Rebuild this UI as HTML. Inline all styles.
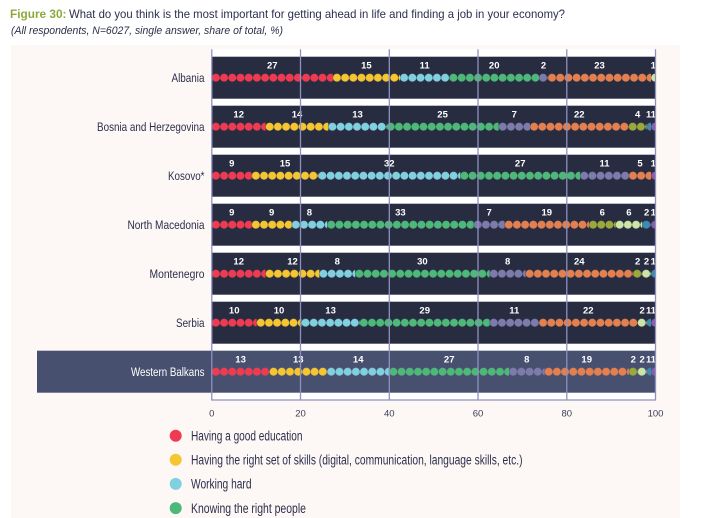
<!DOCTYPE html>
<html><head><meta charset="utf-8"><style>
html,body{margin:0;padding:0;background:#fff;}
svg{display:block;}
text{font-family:"Liberation Sans Narrow","Liberation Sans",sans-serif;}
.n{font-family:"Liberation Sans",sans-serif;font-weight:bold;font-size:9.5px;fill:#fff;text-anchor:middle;}
.lab{font-size:12.3px;fill:#2b2f4b;text-anchor:end;}
.tk{font-size:9.5px;fill:#3a3d55;text-anchor:middle;}
.lg{font-size:13.5px;fill:#2b2f4b;}
</style></head><body>
<svg width="725" height="518" viewBox="0 0 725 518" xmlns="http://www.w3.org/2000/svg">
<defs>
<pattern id="r" width="8.2" height="8.2" patternUnits="userSpaceOnUse"><circle cx="4.1" cy="4.1" r="4" fill="#ef3b52"/></pattern>
<pattern id="y" width="8.2" height="8.2" patternUnits="userSpaceOnUse"><circle cx="4.1" cy="4.1" r="4" fill="#f6c532"/></pattern>
<pattern id="lb" width="8.2" height="8.2" patternUnits="userSpaceOnUse"><circle cx="4.1" cy="4.1" r="4" fill="#80d0df"/></pattern>
<pattern id="g" width="8.2" height="8.2" patternUnits="userSpaceOnUse"><circle cx="4.1" cy="4.1" r="4" fill="#4eb879"/></pattern>
<pattern id="gp" width="8.2" height="8.2" patternUnits="userSpaceOnUse"><circle cx="4.1" cy="4.1" r="4" fill="#7c7bab"/></pattern>
<pattern id="o" width="8.2" height="8.2" patternUnits="userSpaceOnUse"><circle cx="4.1" cy="4.1" r="4" fill="#e4804f"/></pattern>
<pattern id="ol" width="8.2" height="8.2" patternUnits="userSpaceOnUse"><circle cx="4.1" cy="4.1" r="4" fill="#9aa83c"/></pattern>
<pattern id="lg" width="8.2" height="8.2" patternUnits="userSpaceOnUse"><circle cx="4.1" cy="4.1" r="4" fill="#cde4a7"/></pattern>
<pattern id="t" width="8.2" height="8.2" patternUnits="userSpaceOnUse"><circle cx="4.1" cy="4.1" r="4" fill="#3c8bb3"/></pattern>
<pattern id="p" width="8.2" height="8.2" patternUnits="userSpaceOnUse"><circle cx="4.1" cy="4.1" r="4" fill="#8c5ca9"/></pattern>
</defs>

<!-- background -->
<rect x="0" y="0" width="725" height="518" fill="#ffffff"/>
<rect x="11" y="45" width="669" height="473" fill="#fdf8f6"/>

<!-- title -->
<text x="10" y="18" font-size="12" font-weight="bold" fill="#8fa83c" textLength="56.5" lengthAdjust="spacingAndGlyphs">Figure 30:</text>
<text x="69" y="18" font-size="12" fill="#2b2f4b" textLength="496" lengthAdjust="spacingAndGlyphs">What do you think is the most important for getting ahead in life and finding a job in your economy?</text>
<text x="11" y="34" font-size="11" font-style="italic" fill="#2b2f4b" textLength="272" lengthAdjust="spacingAndGlyphs">(All respondents, N=6027, single answer, share of total, %)</text>

<!-- plot white area -->
<rect x="211.8" y="49" width="443.7" height="351" fill="#ffffff"/>

<!-- Western Balkans band -->
<rect x="37" y="350.7" width="618.5" height="42" fill="#48506f"/>

<!-- dark rows -->
<rect x="211.8" y="56.7" width="443.7" height="42" fill="#272c41"/>
<rect x="211.8" y="105.7" width="443.7" height="42" fill="#272c41"/>
<rect x="211.8" y="154.7" width="443.7" height="42" fill="#272c41"/>
<rect x="211.8" y="203.7" width="443.7" height="42" fill="#272c41"/>
<rect x="211.8" y="252.7" width="443.7" height="42" fill="#272c41"/>
<rect x="211.8" y="301.7" width="443.7" height="42" fill="#272c41"/>

<!-- row labels -->
<text class="lab" x="204.5" y="82.2" textLength="33" lengthAdjust="spacingAndGlyphs">Albania</text>
<text class="lab" x="204.5" y="131.2" textLength="107.5" lengthAdjust="spacingAndGlyphs">Bosnia and Herzegovina</text>
<text class="lab" x="204.5" y="180.2" textLength="36.5" lengthAdjust="spacingAndGlyphs">Kosovo*</text>
<text class="lab" x="204.5" y="229.2" textLength="77" lengthAdjust="spacingAndGlyphs">North Macedonia</text>
<text class="lab" x="204.5" y="278.2" textLength="55" lengthAdjust="spacingAndGlyphs">Montenegro</text>
<text class="lab" x="204.5" y="327.2" textLength="28.5" lengthAdjust="spacingAndGlyphs">Serbia</text>
<text class="lab" x="204.5" y="376.2" textLength="73.5" lengthAdjust="spacingAndGlyphs" style="fill:#ffffff">Western Balkans</text>

<!-- Albania -->
<g transform="translate(0,73.6)">
<rect transform="translate(211.8,0)" width="121.01" height="8.2" fill="url(#r)"/>
<rect transform="translate(332.81,0)" width="67.23" height="8.2" fill="url(#y)"/>
<rect transform="translate(400.04,0)" width="49.30" height="8.2" fill="url(#lb)"/>
<rect transform="translate(449.34,0)" width="89.63" height="8.2" fill="url(#g)"/>
<rect transform="translate(538.97,0)" width="8.97" height="8.2" fill="url(#gp)"/>
<rect transform="translate(547.94,0)" width="103.08" height="8.2" fill="url(#o)"/>
<rect transform="translate(651.02,0)" width="4.48" height="8.2" fill="url(#lg)"/>
</g>
<g>
<text class="n" x="272.3" y="68.7">27</text>
<text class="n" x="366.4" y="68.7">15</text>
<text class="n" x="424.7" y="68.7">11</text>
<text class="n" x="494.2" y="68.7">20</text>
<text class="n" x="543.5" y="68.7">2</text>
<text class="n" x="599.5" y="68.7">23</text>
<text class="n" x="653.3" y="68.7">1</text>
</g>

<!-- Bosnia -->
<g transform="translate(0,122.6)">
<rect transform="translate(211.8,0)" width="53.78" height="8.2" fill="url(#r)"/>
<rect transform="translate(265.58,0)" width="62.75" height="8.2" fill="url(#y)"/>
<rect transform="translate(328.33,0)" width="58.26" height="8.2" fill="url(#lb)"/>
<rect transform="translate(386.59,0)" width="112.05" height="8.2" fill="url(#g)"/>
<rect transform="translate(498.64,0)" width="31.37" height="8.2" fill="url(#gp)"/>
<rect transform="translate(530.01,0)" width="98.60" height="8.2" fill="url(#o)"/>
<rect transform="translate(628.61,0)" width="17.92" height="8.2" fill="url(#ol)"/>
<rect transform="translate(646.53,0)" width="4.49" height="8.2" fill="url(#t)"/>
<rect transform="translate(651.02,0)" width="4.48" height="8.2" fill="url(#p)"/>
</g>
<g>
<text class="n" x="238.7" y="117.7">12</text>
<text class="n" x="297.0" y="117.7">14</text>
<text class="n" x="357.5" y="117.7">13</text>
<text class="n" x="442.6" y="117.7">25</text>
<text class="n" x="514.3" y="117.7">7</text>
<text class="n" x="579.3" y="117.7">22</text>
<text class="n" x="637.6" y="117.7">4</text>
<text class="n" x="648.6" y="117.7">1</text>
<text class="n" x="653.3" y="117.7">1</text>
</g>

<!-- Kosovo -->
<g transform="translate(0,171.6)">
<rect transform="translate(211.8,0)" width="39.93" height="8.2" fill="url(#r)"/>
<rect transform="translate(251.73,0)" width="66.56" height="8.2" fill="url(#y)"/>
<rect transform="translate(318.29,0)" width="141.98" height="8.2" fill="url(#lb)"/>
<rect transform="translate(460.27,0)" width="119.80" height="8.2" fill="url(#g)"/>
<rect transform="translate(580.07,0)" width="48.81" height="8.2" fill="url(#gp)"/>
<rect transform="translate(628.88,0)" width="22.18" height="8.2" fill="url(#o)"/>
<rect transform="translate(651.06,0)" width="4.44" height="8.2" fill="url(#p)"/>
</g>
<g>
<text class="n" x="231.8" y="166.7">9</text>
<text class="n" x="285.0" y="166.7">15</text>
<text class="n" x="389.3" y="166.7">32</text>
<text class="n" x="520.2" y="166.7">27</text>
<text class="n" x="604.5" y="166.7">11</text>
<text class="n" x="640.0" y="166.7">5</text>
<text class="n" x="653.3" y="166.7">1</text>
</g>

<!-- North Macedonia -->
<g transform="translate(0,220.6)">
<rect transform="translate(211.8,0)" width="39.93" height="8.2" fill="url(#r)"/>
<rect transform="translate(251.73,0)" width="39.94" height="8.2" fill="url(#y)"/>
<rect transform="translate(291.67,0)" width="35.49" height="8.2" fill="url(#lb)"/>
<rect transform="translate(327.16,0)" width="146.42" height="8.2" fill="url(#g)"/>
<rect transform="translate(473.58,0)" width="31.06" height="8.2" fill="url(#gp)"/>
<rect transform="translate(504.64,0)" width="84.31" height="8.2" fill="url(#o)"/>
<rect transform="translate(588.95,0)" width="26.62" height="8.2" fill="url(#ol)"/>
<rect transform="translate(615.57,0)" width="26.62" height="8.2" fill="url(#lg)"/>
<rect transform="translate(642.19,0)" width="8.87" height="8.2" fill="url(#t)"/>
<rect transform="translate(651.06,0)" width="4.44" height="8.2" fill="url(#p)"/>
</g>
<g>
<text class="n" x="231.8" y="215.7">9</text>
<text class="n" x="271.7" y="215.7">9</text>
<text class="n" x="309.4" y="215.7">8</text>
<text class="n" x="400.4" y="215.7">33</text>
<text class="n" x="489.1" y="215.7">7</text>
<text class="n" x="546.8" y="215.7">19</text>
<text class="n" x="602.3" y="215.7">6</text>
<text class="n" x="628.9" y="215.7">6</text>
<text class="n" x="646.6" y="215.7">2</text>
<text class="n" x="653.3" y="215.7">1</text>
</g>

<!-- Montenegro -->
<g transform="translate(0,269.6)">
<rect transform="translate(211.8,0)" width="53.78" height="8.2" fill="url(#r)"/>
<rect transform="translate(265.58,0)" width="53.78" height="8.2" fill="url(#y)"/>
<rect transform="translate(319.36,0)" width="35.86" height="8.2" fill="url(#lb)"/>
<rect transform="translate(355.22,0)" width="134.45" height="8.2" fill="url(#g)"/>
<rect transform="translate(489.67,0)" width="35.86" height="8.2" fill="url(#gp)"/>
<rect transform="translate(525.53,0)" width="107.56" height="8.2" fill="url(#o)"/>
<rect transform="translate(633.09,0)" width="8.96" height="8.2" fill="url(#ol)"/>
<rect transform="translate(642.05,0)" width="8.97" height="8.2" fill="url(#lg)"/>
<rect transform="translate(651.02,0)" width="4.48" height="8.2" fill="url(#t)"/>
</g>
<g>
<text class="n" x="238.7" y="264.7">12</text>
<text class="n" x="292.5" y="264.7">12</text>
<text class="n" x="337.3" y="264.7">8</text>
<text class="n" x="422.4" y="264.7">30</text>
<text class="n" x="507.6" y="264.7">8</text>
<text class="n" x="579.3" y="264.7">24</text>
<text class="n" x="637.6" y="264.7">2</text>
<text class="n" x="646.5" y="264.7">2</text>
<text class="n" x="653.3" y="264.7">1</text>
</g>

<!-- Serbia -->
<g transform="translate(0,318.6)">
<rect transform="translate(211.8,0)" width="44.82" height="8.2" fill="url(#r)"/>
<rect transform="translate(256.62,0)" width="44.82" height="8.2" fill="url(#y)"/>
<rect transform="translate(301.44,0)" width="58.26" height="8.2" fill="url(#lb)"/>
<rect transform="translate(359.70,0)" width="129.97" height="8.2" fill="url(#g)"/>
<rect transform="translate(489.67,0)" width="49.30" height="8.2" fill="url(#gp)"/>
<rect transform="translate(538.97,0)" width="98.60" height="8.2" fill="url(#o)"/>
<rect transform="translate(637.57,0)" width="8.96" height="8.2" fill="url(#lg)"/>
<rect transform="translate(646.53,0)" width="4.49" height="8.2" fill="url(#t)"/>
<rect transform="translate(651.02,0)" width="4.48" height="8.2" fill="url(#p)"/>
</g>
<g>
<text class="n" x="234.2" y="313.7">10</text>
<text class="n" x="279.0" y="313.7">10</text>
<text class="n" x="330.6" y="313.7">13</text>
<text class="n" x="424.7" y="313.7">29</text>
<text class="n" x="514.3" y="313.7">11</text>
<text class="n" x="588.3" y="313.7">22</text>
<text class="n" x="642.1" y="313.7">2</text>
<text class="n" x="648.6" y="313.7">1</text>
<text class="n" x="653.3" y="313.7">1</text>
</g>

<!-- Western Balkans -->
<g transform="translate(0,367.6)">
<rect transform="translate(211.8,0)" width="57.68" height="8.2" fill="url(#r)"/>
<rect transform="translate(269.48,0)" width="57.68" height="8.2" fill="url(#y)"/>
<rect transform="translate(327.16,0)" width="62.12" height="8.2" fill="url(#lb)"/>
<rect transform="translate(389.28,0)" width="119.80" height="8.2" fill="url(#g)"/>
<rect transform="translate(509.08,0)" width="35.50" height="8.2" fill="url(#gp)"/>
<rect transform="translate(544.58,0)" width="84.30" height="8.2" fill="url(#o)"/>
<rect transform="translate(628.88,0)" width="8.87" height="8.2" fill="url(#ol)"/>
<rect transform="translate(637.75,0)" width="8.88" height="8.2" fill="url(#lg)"/>
<rect transform="translate(646.63,0)" width="4.43" height="8.2" fill="url(#t)"/>
<rect transform="translate(651.06,0)" width="4.44" height="8.2" fill="url(#p)"/>
</g>
<g>
<text class="n" x="240.6" y="362.7">13</text>
<text class="n" x="298.3" y="362.7">13</text>
<text class="n" x="358.2" y="362.7">14</text>
<text class="n" x="449.2" y="362.7">27</text>
<text class="n" x="526.8" y="362.7">8</text>
<text class="n" x="586.7" y="362.7">19</text>
<text class="n" x="633.3" y="362.7">2</text>
<text class="n" x="642.2" y="362.7">2</text>
<text class="n" x="648.6" y="362.7">1</text>
<text class="n" x="653.3" y="362.7">1</text>
</g>

<!-- gridlines -->
<g stroke="#8e91bf" stroke-width="1.3" fill="none">
<line x1="211.8" y1="49.3" x2="211.8" y2="400"/>
<line x1="300.5" y1="49.3" x2="300.5" y2="400"/>
<line x1="389.3" y1="49.3" x2="389.3" y2="400"/>
<line x1="478.0" y1="49.3" x2="478.0" y2="400"/>
<line x1="566.8" y1="49.3" x2="566.8" y2="400"/>
<line x1="655.5" y1="49.3" x2="655.5" y2="400"/>
<line x1="211.2" y1="400" x2="656.1" y2="400"/>
</g>

<!-- ticks -->
<text class="tk" x="211.8" y="416.6">0</text>
<text class="tk" x="300.5" y="416.6">20</text>
<text class="tk" x="389.3" y="416.6">40</text>
<text class="tk" x="478.0" y="416.6">60</text>
<text class="tk" x="566.8" y="416.6">80</text>
<text class="tk" x="655.5" y="416.6">100</text>

<!-- legend -->
<circle cx="175.7" cy="435.7" r="6" fill="#ef3b52"/>
<circle cx="175.7" cy="459.8" r="6" fill="#f6c532"/>
<circle cx="175.7" cy="483.9" r="6" fill="#80d0df"/>
<circle cx="175.7" cy="508.1" r="6" fill="#4eb879"/>
<text class="lg" x="191" y="440.5" textLength="111.5" lengthAdjust="spacingAndGlyphs">Having a good education</text>
<text class="lg" x="191" y="464.6" textLength="331.5" lengthAdjust="spacingAndGlyphs">Having the right set of skills (digital, communication, language skills, etc.)</text>
<text class="lg" x="191" y="488.7" textLength="60.5" lengthAdjust="spacingAndGlyphs">Working hard</text>
<text class="lg" x="191" y="512.9" textLength="115" lengthAdjust="spacingAndGlyphs">Knowing the right people</text>
</svg>
</body></html>
